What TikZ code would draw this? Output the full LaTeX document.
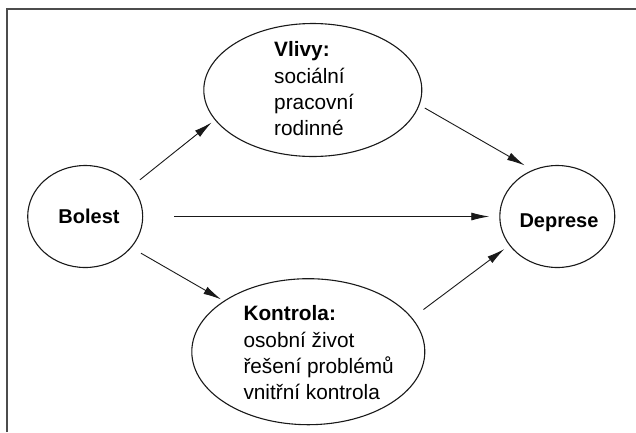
\documentclass[tikz,border=0pt]{standalone}
\usepackage{fontspec}
\setmainfont{Liberation Sans}
\usetikzlibrary{shapes.geometric,arrows.meta}
\tikzset{
  oval/.style={draw=black!90,line width=1.1pt,ellipse,inner sep=0pt},
  txt/.style={inner sep=0pt,font=\fontsize{20}{26}\selectfont},
  lst/.style={inner sep=0pt,font=\fontsize{20.8}{26.2}\selectfont,align=left,anchor=north west},
  conn/.style={draw=black!90,line width=0.9pt,-{Latex[length=18pt,width=8pt]}},
  frame/.style={draw=black!70,line width=1.8pt}
}
\begin{document}
\begin{tikzpicture}[x=1pt,y=-1pt]
\useasboundingbox (0,0) rectangle (636,432);
\draw[frame] (7,432) -- (7,9) -- (636,9);
\node[oval,minimum width=115pt,minimum height=102pt] (b) at (85.2,216.5) {};
\node[oval,minimum width=115pt,minimum height=102pt] (d) at (557.3,216.5) {};
\node[oval,minimum width=218pt,minimum height=133pt] (v) at (312.8,90) {};
\node[oval,minimum width=233pt,minimum height=146pt] (k) at (308.3,351.7) {};
\node[txt,anchor=base] (bt) at (89,223.3) {\textbf{Bolest}};
\node[txt,anchor=base] (dt) at (559,227.7) {\textbf{Deprese}};
\node[lst] (vt) at (274,40.7) {\rule{0pt}{16pt}\textbf{Vlivy:}\\sociální\\pracovní\\rodinné};
\node[lst] (kt) at (243.3,304.7) {\rule{0pt}{16pt}\textbf{Kontrola:}\\osobní život\\řešení problémů\\vnitřní kontrola};
\draw[conn,shorten <=10pt,shorten >=4pt] (b.33) -- (v.197);
\draw[conn,shorten <=6pt,shorten >=9pt] (v.-8) -- (d.118);
\draw[conn,shorten <=31pt,shorten >=10pt] (b.east) -- (d.west);
\draw[conn,shorten <=11pt,shorten >=3pt] (b.-34) -- (k.149);
\draw[conn,shorten <=14pt,shorten >=6pt] (k.18) -- (d.211);
\end{tikzpicture}
\end{document}
